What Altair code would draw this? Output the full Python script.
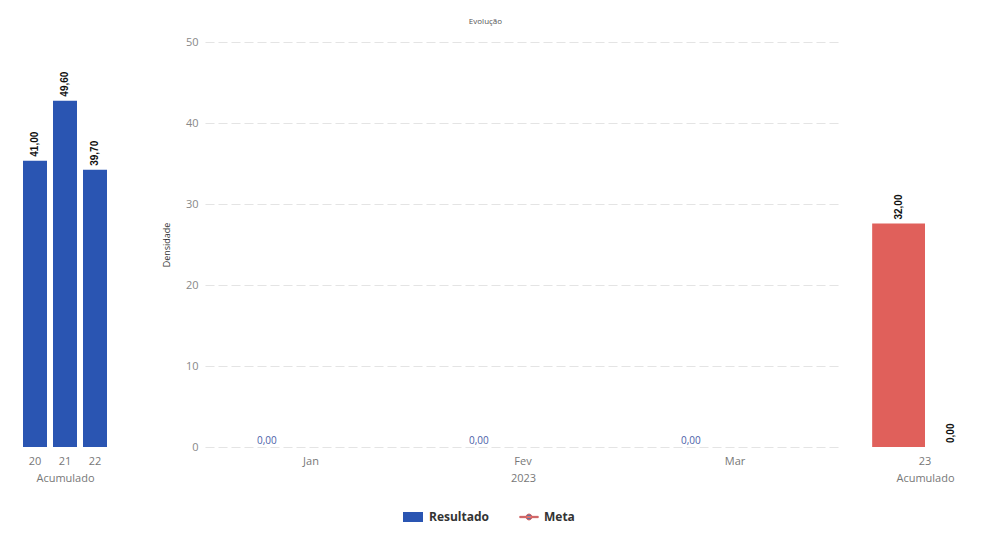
import altair as alt
import pandas as pd

# ---- data ----
years = ["20", "21", "22"]
acum_resultado = [41.00, 49.60, 39.70]
months = ["Jan", "Fev", "Mar"]
mensal_resultado = [0.00, 0.00, 0.00]
mensal_meta = [None, None, None]
ano_atual = ["23", "23"]
serie_atual = ["Meta", "Resultado"]
acum_atual = [32.00, 0.00]
series = ["Resultado", "Meta"]
colors = ["#2a55b2", "#e0605b"]

FONT = "Open Sans"
H = 405
label_expr = "replace(format(datum.v, '.2f'), '.', ',')"
RECT_PATH = "M-1,-0.5H1V0.5H-1Z"
LINE_DOT_PATH = ("M-1,-0.07H1V0.07H-1Z "
                 "M-0.32,0A0.32,0.32 0 1,0 0.32,0A0.32,0.32 0 1,0 -0.32,0Z")

xaxis = dict(labelAngle=0, domain=False, ticks=False, labelPadding=8,
             titlePadding=6, labelFontSize=11, titleFontSize=11,
             labelColor="#777", titleColor="#777", titleFontWeight="normal")

bar_label = dict(angle=270, align="left", baseline="middle", dx=4,
                 font="Liberation Sans", fontWeight="bold", fontSize=10,
                 color="#111")

# ---- left panel: accumulated previous years ----
left_df = pd.DataFrame({"ano": years, "v": acum_resultado})
base_left = alt.Chart(left_df).transform_calculate(lbl=label_expr).encode(
    x=alt.X("ano:N", sort=years, title="Acumulado",
            scale=alt.Scale(paddingInner=0.2, paddingOuter=0.1),
            axis=alt.Axis(**xaxis)),
    y=alt.Y("v:Q", scale=alt.Scale(domain=[0, 58], nice=False), axis=None),
)
left = alt.layer(
    base_left.mark_bar(color=colors[0]),
    base_left.mark_text(**bar_label).encode(text="lbl:N"),
).properties(width=90, height=H)

# ---- middle panel: monthly evolution ----
mid_df = pd.DataFrame({
    "mes": months * 2,
    "serie": ["Resultado"] * 3 + ["Meta"] * 3,
    "v": mensal_resultado + mensal_meta,
})
mid_x = alt.X("mes:N", sort=months, title="2023",
              scale=alt.Scale(paddingInner=0, paddingOuter=0),
              axis=alt.Axis(**xaxis))
mid_y = alt.Y("v:Q", title="Densidade",
              scale=alt.Scale(domain=[0, 50], nice=False),
              axis=alt.Axis(values=[0, 10, 20, 30, 40, 50], domain=False,
                            ticks=False, labelPadding=7, labelFontSize=11,
                            labelColor="#888", titleFontSize=9,
                            titleColor="#333", titleFontWeight="normal",
                            titlePadding=14, grid=True, gridColor="#e4e4e4",
                            gridDash=[9, 4], gridWidth=1.2))
mid_off = alt.XOffset("serie:N", scale=alt.Scale(domain=series, paddingOuter=0.2))

mid_res = alt.Chart(mid_df).transform_filter(
    "datum.serie == 'Resultado'").transform_calculate(lbl=label_expr)
mid_bars = mid_res.mark_bar().encode(
    x=mid_x, y=mid_y, xOffset=mid_off,
    fill=alt.Fill("serie:N",
                  scale=alt.Scale(domain=["Resultado"], range=[colors[0]]),
                  legend=alt.Legend(orient="none", legendX=198, legendY=465,
                                    title=None, symbolType=RECT_PATH,
                                    symbolSize=400, symbolStrokeWidth=0,
                                    labelFont=FONT, labelFontWeight="bold",
                                    labelFontSize=12, labelColor="#333",
                                    labelOffset=6)),
)
mid_text = mid_res.mark_text(fontSize=10, font=FONT, color="#4a5ea8",
                             baseline="bottom", dy=-1).encode(
    x=mid_x, y=mid_y, xOffset=mid_off, text="lbl:N")
mid_meta = alt.Chart(mid_df).transform_filter(
    "datum.serie == 'Meta'").mark_line(point=True).encode(
    x=mid_x, y=mid_y,
    stroke=alt.Stroke("serie:N",
                      scale=alt.Scale(domain=["Meta"], range=[colors[1]]),
                      legend=alt.Legend(orient="none", legendX=314, legendY=465,
                                        title=None, symbolType=LINE_DOT_PATH,
                                        symbolSize=340, symbolStrokeWidth=1,
                                        symbolFillColor=colors[1],
                                        symbolOpacity=1,
                                        labelFont=FONT, labelFontWeight="bold",
                                        labelFontSize=12, labelColor="#333",
                                        labelOffset=5)),
)
middle = alt.layer(mid_bars, mid_text, mid_meta).properties(width=636, height=H)

# ---- right panel: accumulated current year ----
right_df = pd.DataFrame({"ano": ano_atual, "serie": serie_atual, "v": acum_atual})
base_right = alt.Chart(right_df).transform_calculate(lbl=label_expr).encode(
    x=alt.X("ano:N", title="Acumulado",
            scale=alt.Scale(paddingInner=0, paddingOuter=0.03),
            axis=alt.Axis(**xaxis)),
    xOffset=alt.XOffset("serie:N", scale=alt.Scale(domain=["Meta", "Resultado"])),
    y=alt.Y("v:Q", scale=alt.Scale(domain=[0, 58], nice=False), axis=None),
)
right = alt.layer(
    base_right.mark_bar().encode(
        fill=alt.Fill("serie:N", scale=alt.Scale(domain=series, range=colors),
                      legend=None)),
    base_right.mark_text(**bar_label).encode(text="lbl:N"),
).properties(width=112, height=H)

inner = alt.hconcat(left, middle, spacing=52).resolve_scale(
    fill="independent", stroke="independent", xOffset="independent")
chart = alt.hconcat(inner, right, spacing=28).resolve_scale(
    fill="independent", stroke="independent", xOffset="independent").properties(
    title=alt.TitleParams("Evolução", fontSize=8, font=FONT,
                          fontWeight="normal", color="#555",
                          anchor="middle", dx=-15, offset=10),
    padding={"left": 12, "top": 10, "right": 0, "bottom": 2},
).configure_view(stroke=None).configure_axis(
    labelFont=FONT, titleFont=FONT
).configure_legend(padding=0)

chart.save("out.html", embed_options={"renderer": "svg", "actions": False})
